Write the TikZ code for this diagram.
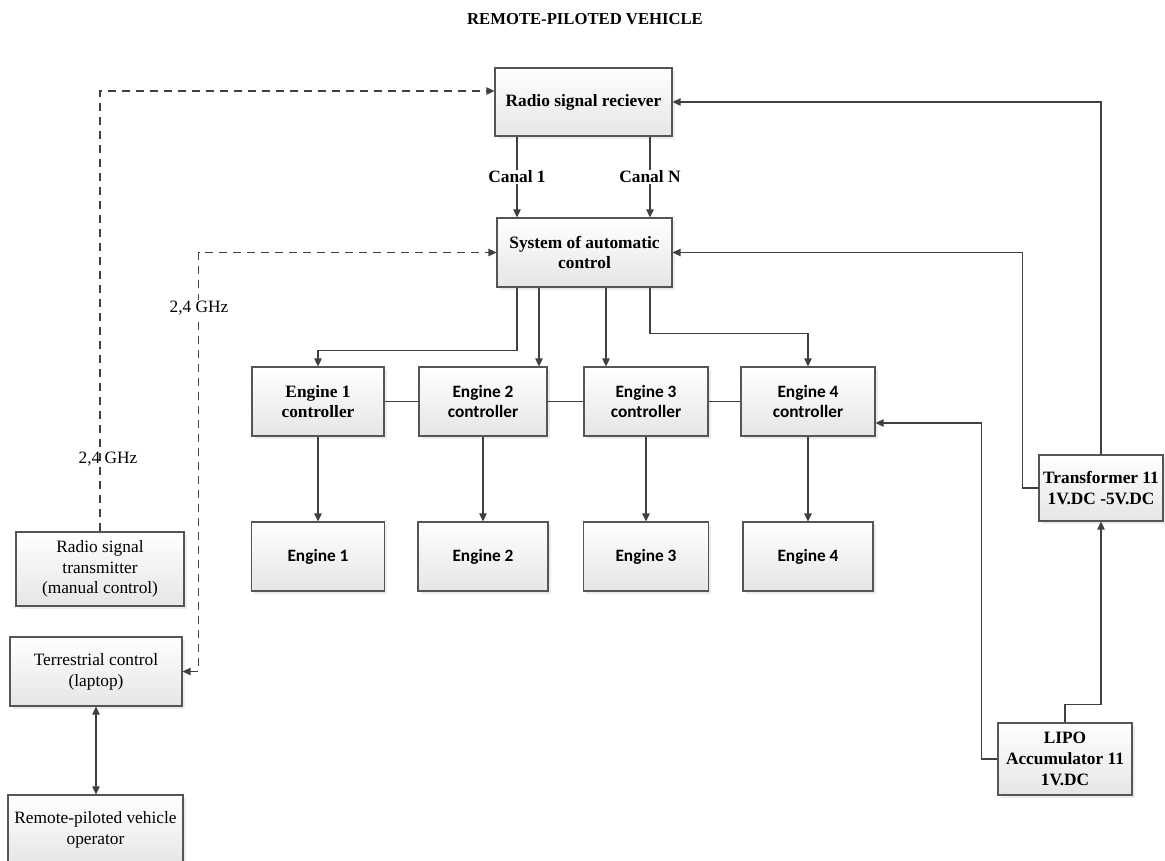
\documentclass[tikz,border=0pt]{standalone}
\usepackage{fontspec}
\setmainfont{Liberation Serif}
\newfontfamily\calibri{Carlito}
\usetikzlibrary{arrows.meta,shadows,calc}
\definecolor{boxline}{HTML}{555555}
\definecolor{wire}{HTML}{404040}
\tikzset{
	wd/.style       = {minimum width=#1*0.75pt},
	ht/.style       = {minimum height=#1*0.75pt},
	block/.style    = {draw=boxline, line width=0.8pt, rectangle,
		top color=white, bottom color=gray!20,
		drop shadow={shadow xshift=2pt, shadow yshift=-2pt, fill=black!15},
		align=center, inner sep=2pt,
		font=\fontsize{13}{15.5}\selectfont\bfseries},
	sblock/.style   = {block, font=\fontsize{13}{15.5}\selectfont\calibri\bfseries},
	rblock/.style   = {block, font=\fontsize{13}{15.5}\selectfont},
	radio/.style    = {dash pattern=on 6pt off 4.5pt},
	lbl/.style      = {fill=white, inner sep=1pt, font=\fontsize{13}{15.5}\selectfont},
}

\begin{document}
\begin{tikzpicture}[ x=0.75pt, y=-0.75pt,            %<--pixel grid, y pointing down
					line width=1pt,                   %<--setting line style
					draw=wire,
					>={Triangle[length=6pt,width=5.5pt]} ]  %<--sets the arrowtype

	\useasboundingbox (0,0) rectangle (1165,861);

	\draw%-----------------------------------------------------------------------------------------
	%Drawing the Title:
	node(title) at (585,19) [font=\fontsize{12.5}{15}\selectfont\bfseries] {REMOTE-PILOTED VEHICLE}
	%Drawing the Vehicle Blocks:
	node(recv) at (583.5,102) [block, wd=177, ht=68] {Radio signal reciever}
	node(sac) at (584.5,252.5) [block, wd=175, ht=69] {System of automatic\\control}
	node(ctrl1) at (318,401.5) [block, wd=132, ht=69] {Engine 1\\controller}
	node(ctrl2) at (483,401.5) [sblock, wd=128, ht=69] {Engine 2\\controller}
	node(ctrl3) at (646,401.5) [sblock, wd=124, ht=69] {Engine 3\\controller}
	node(ctrl4) at (808,401.5) [sblock, wd=134, ht=69] {Engine 4\\controller}
	node(eng1) at (318,556.5) [sblock, wd=133, ht=69] {Engine 1}
	node(eng2) at (483,556.5) [sblock, wd=130, ht=69] {Engine 2}
	node(eng3) at (646,556.5) [sblock, wd=125, ht=69] {Engine 3}
	node(eng4) at (808,556.5) [sblock, wd=130, ht=69] {Engine 4}
	%Drawing the Power Blocks:
	node(trans) at (1101,488) [block, wd=124, ht=66] {Transformer 11\\1V.DC -5V.DC}
	node(lipo) at (1065,759) [block, wd=134, ht=72] {LIPO\\Accumulator 11\\1V.DC}
	%Drawing the Ground Blocks:
	node(tx) at (100,569) [rblock, wd=168, ht=74] {Radio signal\\transmitter\\(manual control)}
	node(terr) at (96,671.5) [rblock, wd=172, ht=69] {Terrestrial control\\(laptop)}
	node(oper) at (95.5,830) [rblock, wd=175, ht=70] {Remote-piloted vehicle\\operator}
	%Drawing the Channel Coordinates:
	node[shape=coordinate][](ch1) at (517,0){}
	node[shape=coordinate][](chN) at (650,0){}
	node[shape=coordinate][](br2) at (539,0){}
	node[shape=coordinate][](br3) at (606,0){}
	;%---------------------------------------------------------------------------------------------

	%Joining the Blocks
	\draw[->] (recv.south -| ch1) -- node[lbl, font=\fontsize{13}{15.5}\selectfont\bfseries] {Canal 1} (sac.north -| ch1);
	\draw[->] (recv.south -| chN) -- node[lbl, font=\fontsize{13}{15.5}\selectfont\bfseries] {Canal N} (sac.north -| chN);

	\draw[->] (sac.south -| ch1) -- ++(0,63) -| (ctrl1.north);
	\draw[->] (sac.south -| br2) -- (ctrl2.north -| br2);
	\draw[->] (sac.south -| br3) -- (ctrl3.north -| br3);
	\draw[->] (sac.south -| chN) -- ++(0,46) -| (ctrl4.north);

	\draw (ctrl1) -- (ctrl2);
	\draw (ctrl2) -- (ctrl3);
	\draw (ctrl3) -- (ctrl4);

	\draw[->] (ctrl1) -- (eng1);
	\draw[->] (ctrl2) -- (eng2);
	\draw[->] (ctrl3) -- (eng3);
	\draw[->] (ctrl4) -- (eng4);

	%Power lines
	\draw[->] (trans.north) |- (recv.east);
	\draw[->] (trans.west) -- ++(-16,0) |- (sac.east);
	\draw[->] (lipo.north) -- ++(0,-18) -| (trans.south);
	\draw[->] (lipo.west) -- ++(-16,0) |- ($(ctrl4.east)+(0,21.5)$);

	%Radio links
	\draw[->, radio] (tx.north) -- ($(tx.north |- recv.west)+(0,-11)$) -- ($(recv.west)+(0,-11)$);
	\draw[<->, radio] (terr.east) -- ++(16,0) |- (sac.west);
	\draw[<->] (terr.south) -- (terr.south |- oper.north);

	\draw%--------------------------------------------------------------
	node(ghz1) at (108,459) [font=\fontsize{13}{15.5}\selectfont] {2,4 GHz}
	node(ghz2) at (199,308) [lbl] {2,4 GHz}
	;%------------------------------------------------------------------

\end{tikzpicture}
\end{document}
